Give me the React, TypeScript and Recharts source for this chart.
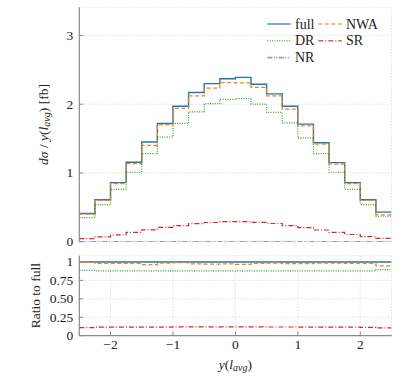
import React from 'react';
import { LineChart, Line, XAxis, YAxis, CartesianGrid, Legend } from 'recharts';

// bin edges of y(l_avg)
const binEdges = [-2.5, -2.25, -2, -1.75, -1.5, -1.25, -1, -0.75, -0.5, -0.25, 0, 0.25, 0.5, 0.75, 1, 1.25, 1.5, 1.75, 2, 2.25, 2.5];

// top panel: dσ/dy [fb] per bin
const fullVals = [0.41, 0.61, 0.86, 1.155, 1.45, 1.72, 1.97, 2.17, 2.3, 2.37, 2.39, 2.29, 2.15, 1.97, 1.71, 1.44, 1.15, 0.86, 0.61, 0.43];
const nwaVals = [0.4, 0.6, 0.845, 1.135, 1.4, 1.7, 1.94, 2.12, 2.235, 2.315, 2.31, 2.245, 2.12, 1.93, 1.685, 1.42, 1.13, 0.845, 0.6, 0.39];
const drVals = [0.35, 0.54, 0.76, 1.01, 1.28, 1.52, 1.72, 1.89, 2.01, 2.07, 2.08, 2.0, 1.88, 1.73, 1.51, 1.28, 1.01, 0.76, 0.54, 0.37];
const srVals = [0.045, 0.07, 0.098, 0.136, 0.172, 0.207, 0.235, 0.262, 0.279, 0.292, 0.292, 0.281, 0.265, 0.235, 0.205, 0.17, 0.137, 0.105, 0.075, 0.047];
const nrVals = [0.003, 0.003, 0.003, 0.003, 0.003, 0.003, 0.003, 0.003, 0.003, 0.003, 0.003, 0.003, 0.003, 0.003, 0.003, 0.003, 0.003, 0.003, 0.003, 0.003];

// bottom panel: ratio to full
const fullRatio = [1, 1, 1, 1, 1, 1, 1, 1, 1, 1, 1, 1, 1, 1, 1, 1, 1, 1, 1, 1];
const nwaRatio = [0.995, 0.98, 0.98, 0.98, 0.963, 0.985, 0.99, 0.975, 0.972, 0.975, 0.968, 0.98, 0.985, 0.978, 0.978, 0.985, 0.985, 0.98, 0.98, 0.946];
const drRatio = [0.885, 0.88, 0.88, 0.88, 0.88, 0.88, 0.878, 0.878, 0.878, 0.878, 0.878, 0.878, 0.878, 0.878, 0.878, 0.878, 0.878, 0.878, 0.88, 0.895];
const srRatio = [0.11, 0.115, 0.115, 0.115, 0.115, 0.117, 0.12, 0.12, 0.12, 0.12, 0.12, 0.12, 0.118, 0.118, 0.117, 0.117, 0.116, 0.115, 0.112, 0.105];
const nrRatio = [0.002, 0.002, 0.002, 0.002, 0.002, 0.002, 0.002, 0.002, 0.002, 0.002, 0.002, 0.002, 0.002, 0.002, 0.002, 0.002, 0.002, 0.002, 0.002, 0.002];

const xTicks = [-2, -1, 0, 1, 2];
const topYTicks = [0, 1, 2, 3];
const ratioYTicks = [0, 0.25, 0.5, 0.75, 1];

const FONT = 'Liberation Serif';
const FRAME = '#8a8a8a';
const GRID = '#d4d4d4';

type Series = { key: string; name: string; color: string; dash?: string; width: number };
const series: Series[] = [
  { key: 'full', name: 'full', color: '#1f77b4', width: 1.4 },
  { key: 'nwa', name: 'NWA', color: '#ff7f0e', dash: '4 2.5', width: 1.3 },
  { key: 'dr', name: 'DR', color: '#2ca02c', dash: '1 1.4', width: 1.2 },
  { key: 'sr', name: 'SR', color: '#d62728', dash: '5 2 1 2', width: 1.2 },
  { key: 'nr', name: 'NR', color: '#9467bd', dash: '5 1.5 1 1.5 1 1.5', width: 1.2 },
];

function buildRows(arrs: Record<string, number[]>) {
  return binEdges.map((x, i) => {
    const row: Record<string, number> = { x };
    for (const k of Object.keys(arrs)) {
      const a = arrs[k];
      row[k] = a[Math.min(i, a.length - 1)];
    }
    return row;
  });
}

const topRows = buildRows({ full: fullVals, nwa: nwaVals, dr: drVals, sr: srVals, nr: nrVals });
const ratioRows = buildRows({ full: fullRatio, nwa: nwaRatio, dr: drRatio, sr: srRatio, nr: nrRatio });

const fmtX = (v: number) => (v < 0 ? `\u2212${-v}` : `${v}`);
const fmtTopY = (v: number) => `${v}`;
const fmtRatio = (v: number) => (v === 0 || v === 1 ? `${v}` : v.toFixed(2));

const textStyle = { fontFamily: FONT };

const makeYTick = (fmt: (v: number) => string) => (p: any) => (
  <text x={p.x} y={p.y} textAnchor="end" dominantBaseline="central" style={textStyle} fontSize={13.5} fill="#222">
    {fmt(p.payload.value)}
  </text>
);
const makeXTick = (fmt: (v: number) => string) => (p: any) => (
  <text x={p.x} y={p.y} dy="0.72em" textAnchor="middle" style={textStyle} fontSize={13.5} fill="#222">
    {fmt(p.payload.value)}
  </text>
);

const legendLayout = [
  { key: 'full', col: 0, row: 0 },
  { key: 'nwa', col: 1, row: 0 },
  { key: 'dr', col: 0, row: 1 },
  { key: 'sr', col: 1, row: 1 },
  { key: 'nr', col: 0, row: 2 },
];

const LegendBox = () => (
  <svg width={140} height={58} style={{ display: 'block' }}>
    {legendLayout.map((it) => {
      const s = series.find((q) => q.key === it.key)!;
      const x0 = it.col === 0 ? 5.3 : 56.3;
      const y = 10 + it.row * 16.8;
      return (
        <g key={it.key}>
          <line x1={x0} x2={x0 + 23.4} y1={y} y2={y} stroke={s.color} strokeWidth={1.6} strokeDasharray={s.dash} strokeOpacity={0.75} />
          <text x={x0 + 27.7} y={y + 4.5} style={textStyle} fontSize={14} fill="#222">
            {s.name}
          </text>
        </g>
      );
    })}
  </svg>
);

const TopYLabel = (props: any) => {
  const vb = props.viewBox || { x: 0, y: 0, width: 0, height: 0 };
  const cx = vb.x + 45;
  const cy = vb.y + vb.height / 2;
  return (
    <text x={cx} y={cy} transform={`rotate(-90, ${cx}, ${cy})`} textAnchor="middle" style={textStyle} fontSize={13.5} fill="#222" dominantBaseline="middle">
      <tspan fontStyle="italic">dσ</tspan>
      <tspan> / </tspan>
      <tspan fontStyle="italic">y</tspan>
      <tspan>(</tspan>
      <tspan fontStyle="italic">l</tspan>
      <tspan fontStyle="italic" fontSize={10} dy={2.5}>avg</tspan>
      <tspan dy={-2.5}>) [fb]</tspan>
    </text>
  );
};

const RatioYLabel = (props: any) => {
  const vb = props.viewBox || { x: 0, y: 0, width: 0, height: 0 };
  const cx = vb.x + 37;
  const cy = vb.y + vb.height / 2;
  return (
    <text x={cx} y={cy} transform={`rotate(-90, ${cx}, ${cy})`} textAnchor="middle" style={textStyle} fontSize={13.5} fill="#222" dominantBaseline="middle">
      Ratio to full
    </text>
  );
};

const XLabel = (props: any) => {
  const vb = props.viewBox || { x: 0, y: 0, width: 0, height: 0 };
  const cx = vb.x + vb.width / 2;
  const y = vb.y + 33;
  return (
    <text x={cx} y={y} textAnchor="middle" style={textStyle} fontSize={13.5} fill="#222">
      <tspan fontStyle="italic">y</tspan>
      <tspan>(</tspan>
      <tspan fontStyle="italic">l</tspan>
      <tspan fontStyle="italic" fontSize={10} dy={2.5}>avg</tspan>
      <tspan dy={-2.5}>)</tspan>
    </text>
  );
};

const axisCommon = {
  axisLine: { stroke: FRAME, strokeWidth: 1.2 },
  tickLine: { stroke: FRAME, strokeWidth: 1 },
  tickSize: -4,
  interval: 0 as const,
};

function renderLines() {
  return series.map((s) => (
    <Line
      key={s.key}
      dataKey={s.key}
      name={s.name}
      type="stepAfter"
      stroke={s.color}
      strokeWidth={s.width}
      strokeDasharray={s.dash}
      dot={false}
      activeDot={false}
      isAnimationActive={false}
    />
  ));
}

export default function App() {
  return (
    <div style={{ position: 'absolute', left: 0, top: 0, width: 407, height: 383, background: '#fff', fontFamily: FONT }}>
      <div style={{ position: 'absolute', left: 0, top: 0 }}>
        <LineChart width={407} height={250} data={topRows} margin={{ top: 7.3, right: 15.5, bottom: 8.3, left: 0 }} style={textStyle}>
          <CartesianGrid stroke={GRID} strokeDasharray="1 2" />
          <XAxis dataKey="x" type="number" domain={[-2.5, 2.5]} ticks={xTicks} allowDataOverflow height={0} tick={false} {...axisCommon} />
          <XAxis xAxisId="top" orientation="top" dataKey="x" type="number" domain={[-2.5, 2.5]} ticks={xTicks} allowDataOverflow height={0} tick={false} {...axisCommon} />
          <YAxis type="number" domain={[0, 3.41]} ticks={topYTicks} allowDataOverflow width={79.3} tick={makeYTick(fmtTopY)} tickMargin={10} label={TopYLabel} {...axisCommon} />
          <YAxis yAxisId="r" orientation="right" type="number" domain={[0, 3.41]} ticks={topYTicks} allowDataOverflow width={0} tick={false} {...axisCommon} />
          {renderLines()}
          <Legend
            layout="vertical"
            align="center"
            verticalAlign="middle"
            content={() => <LegendBox />}
            wrapperStyle={{ position: 'absolute', top: 14, left: 262, width: 140, height: 58 }}
          />
        </LineChart>
      </div>
      <div style={{ position: 'absolute', left: 0, top: 250 }}>
        <LineChart width={407} height={133} data={ratioRows} margin={{ top: 5.7, right: 15.5, bottom: 0, left: 0 }} style={textStyle}>
          <CartesianGrid stroke={GRID} strokeDasharray="1 2" />
          <XAxis dataKey="x" type="number" domain={[-2.5, 2.5]} ticks={xTicks} allowDataOverflow height={47.3} tick={makeXTick(fmtX)} tickMargin={8} label={XLabel} {...axisCommon} />
          <XAxis xAxisId="top" orientation="top" dataKey="x" type="number" domain={[-2.5, 2.5]} ticks={xTicks} allowDataOverflow height={0} tick={false} {...axisCommon} />
          <YAxis type="number" domain={[0, 1.085]} ticks={ratioYTicks} allowDataOverflow width={79.3} tick={makeYTick(fmtRatio)} tickMargin={10} label={RatioYLabel} {...axisCommon} />
          <YAxis yAxisId="r" orientation="right" type="number" domain={[0, 1.085]} ticks={ratioYTicks} allowDataOverflow width={0} tick={false} {...axisCommon} />
          {renderLines()}
        </LineChart>
      </div>
    </div>
  );
}
